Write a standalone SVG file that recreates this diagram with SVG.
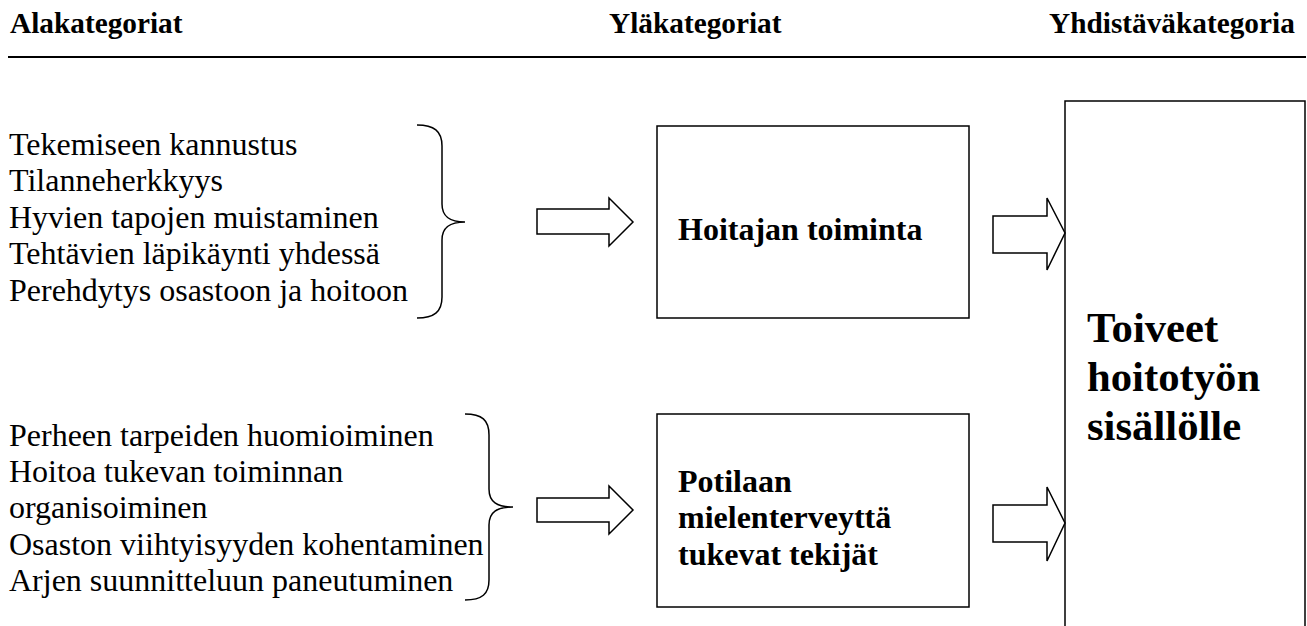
<svg xmlns="http://www.w3.org/2000/svg" width="1307" height="626" viewBox="0 0 1307 626">
<style>
.hdr{font-weight:bold;font-size:29.3px}
.item{font-size:32px}
.bold{font-weight:bold;font-size:32px}
.big{font-weight:bold;font-size:42.7px}
.box{fill:#fff;stroke:#000;stroke-width:1.5}
.brace{fill:none;stroke:#000;stroke-width:1.5}
.arrow{fill:#fff;stroke:#000;stroke-width:1.5;stroke-linejoin:miter}
</style>
<rect width="1307" height="626" fill="#fff"/>
<g id="header" font-family="Liberation Serif" fill="#000">
<text class="hdr" x="10" y="33">Alakategoriat</text>
<text class="hdr" x="609" y="33">Yläkategoriat</text>
<text class="hdr" x="1049" y="33">Yhdistäväkategoria</text>
<line x1="8" y1="57" x2="1306" y2="57" stroke="#000" stroke-width="2"/>
</g>
<g id="sub1" fill="#000">
<text class="item" font-family="Liberation Serif" x="9" y="155">Tekemiseen kannustus</text>
<text class="item" font-family="Liberation Serif" x="9" y="191">Tilanneherkkyys</text>
<text class="item" font-family="Liberation Serif" x="9" y="228">Hyvien tapojen muistaminen</text>
<text class="item" font-family="Liberation Serif" x="9" y="264">Tehtävien läpikäynti yhdessä</text>
<text class="item" font-family="Liberation Serif" x="9" y="301">Perehdytys osastoon ja hoitoon</text>
<path class="brace" d="M417,125 C434,125 442,131 442,146 L442,204 C442,217 450,222 465,222 C450,222 442,227 442,240 L442,297 C442,312 434,318 417,318"/>
</g>
<g id="sub2" fill="#000">
<text class="item" font-family="Liberation Serif" x="9" y="446">Perheen tarpeiden huomioiminen</text>
<text class="item" font-family="Liberation Serif" x="9" y="482">Hoitoa tukevan toiminnan</text>
<text class="item" font-family="Liberation Serif" x="9" y="518">organisoiminen</text>
<text class="item" font-family="Liberation Serif" x="9" y="555">Osaston viihtyisyyden kohentaminen</text>
<text class="item" font-family="Liberation Serif" x="9" y="591">Arjen suunnitteluun paneutuminen</text>
<path class="brace" d="M465,414 C482,414 489,420 489,435 L489,489 C489,502 497,507 513,507 C497,507 489,512 489,525 L489,580 C489,594 482,600 465,600"/>
</g>
<g id="hoitajan-toiminta" font-family="Liberation Serif">
<rect class="box" x="657" y="126" width="312" height="192"/>
<text class="bold" x="678" y="240">Hoitajan toiminta</text>
</g>
<g id="potilaan" font-family="Liberation Serif">
<rect class="box" x="657" y="414" width="312" height="193"/>
<text class="bold" x="678" y="492">Potilaan</text>
<text class="bold" x="678" y="528">mielenterveyttä</text>
<text class="bold" x="678" y="565">tukevat tekijät</text>
</g>
<g id="toiveet" font-family="Liberation Serif">
<path class="box" d="M1065,640 V101 H1305 V640"/>
<text class="big" x="1087" y="342">Toiveet</text>
<text class="big" x="1087" y="391">hoitotyön</text>
<text class="big" x="1087" y="440">sisällölle</text>
</g>
<g id="connectors">
<path class="arrow" d="M537,209 H609 V198 L633,222 L609,246 V234 H537 Z"/>
<path class="arrow" d="M537,498 H609 V486 L633,510 L609,534 V522 H537 Z"/>
<path class="arrow" d="M993,216 H1047 V198 L1065,233 L1047,270 V253 H993 Z"/>
<path class="arrow" d="M993,505 H1047 V487 L1065,523 L1047,561 V542 H993 Z"/>
</g>
</svg>
